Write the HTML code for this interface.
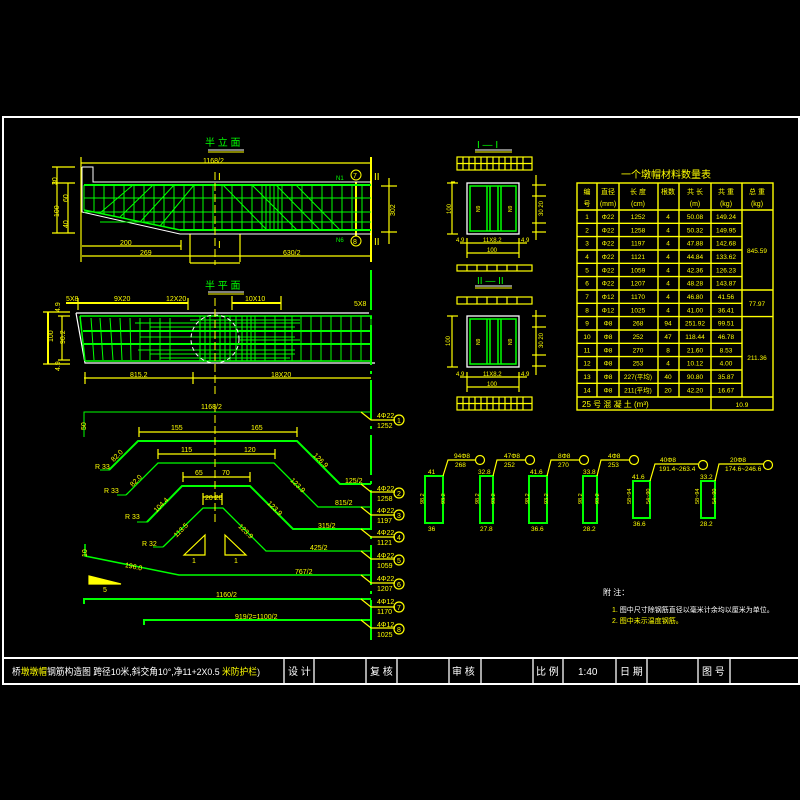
<!DOCTYPE html>
<html><head><meta charset="utf-8"><style>
html,body{margin:0;padding:0;background:#000;}
svg{display:block}
text{font-family:"Liberation Sans","Noto Sans CJK SC",sans-serif;}
</style></head><body>
<svg width="800" height="800" viewBox="0 0 800 800" xmlns="http://www.w3.org/2000/svg">
<rect width="800" height="800" fill="#000"/>
<!-- frame -->
<rect x="3" y="117" width="796" height="567" fill="none" stroke="#fff" stroke-width="2"/>
<line x1="3" y1="658" x2="799" y2="658" stroke="#fff" stroke-width="2"/>
<g stroke="#fff" stroke-width="1.3">
<line x1="284" y1="658" x2="284" y2="684"/><line x1="314" y1="658" x2="314" y2="684"/>
<line x1="366" y1="658" x2="366" y2="684"/><line x1="397" y1="658" x2="397" y2="684"/>
<line x1="449" y1="658" x2="449" y2="684"/><line x1="481" y1="658" x2="481" y2="684"/>
<line x1="533" y1="658" x2="533" y2="684"/><line x1="563" y1="658" x2="563" y2="684"/>
<line x1="616" y1="658" x2="616" y2="684"/><line x1="647" y1="658" x2="647" y2="684"/>
<line x1="698" y1="658" x2="698" y2="684"/><line x1="730" y1="658" x2="730" y2="684"/>
</g>
<g font-size="10" fill="#fff">
<text x="12" y="675" textLength="248" lengthAdjust="spacingAndGlyphs" font-size="9.5">桥<tspan fill="#ff0">墩墩帽</tspan>钢筋构造图 跨径10米,斜交角10°,净11+2X0.5 <tspan fill="#ff0">米防护栏</tspan>)</text>
<text x="288" y="675">设  计</text><text x="370" y="675">复  核</text><text x="452" y="675">审  核</text>
<text x="536" y="675">比  例</text><text x="578" y="675">1:40</text><text x="620" y="675">日  期</text><text x="702" y="675">图  号</text>
</g>

<!-- ============ ELEVATION ============ -->
<text x="205" y="146" font-size="10" fill="#0f0">半 立 面</text>
<line x1="208" y1="150" x2="244" y2="150" stroke="#fff"/><line x1="208" y1="152" x2="244" y2="152" stroke="#ff0"/>
<g stroke="#ff0" stroke-width="1.2" fill="none">
<line x1="81" y1="163" x2="371" y2="163"/><line x1="81" y1="157" x2="81" y2="262"/>
<line x1="371" y1="157" x2="371" y2="262" stroke-width="2"/>
<line x1="82" y1="246" x2="181" y2="246"/><line x1="181" y1="240" x2="181" y2="250"/>
<line x1="82" y1="256" x2="371" y2="256"/><line x1="240" y1="234" x2="240" y2="262"/>
<line x1="190" y1="234" x2="190" y2="263"/><line x1="190" y1="263" x2="240" y2="263"/>
<line x1="52" y1="167" x2="75" y2="167"/><line x1="52" y1="183" x2="75" y2="183"/><line x1="52" y1="233" x2="75" y2="233"/>
<line x1="57" y1="167" x2="57" y2="233"/><line x1="68" y1="183" x2="68" y2="233"/>
<line x1="389" y1="178" x2="389" y2="244"/><line x1="381" y1="186" x2="397" y2="186"/><line x1="381" y1="232" x2="397" y2="232"/>
<line x1="356" y1="182" x2="356" y2="236" stroke-width="2"/>
</g>
<g font-size="7" fill="#ff0">
<text x="203" y="163">1168/2</text><text x="120" y="245">200</text><text x="140" y="255">269</text><text x="283" y="255">630/2</text>
<text x="48" y="180" transform="rotate(-90 55 178)">30</text><text x="48" y="214" transform="rotate(-90 55 210)">100</text>
<text x="62" y="200" transform="rotate(-90 66 198)">60</text><text x="62" y="226" transform="rotate(-90 66 224)">40</text>
<text x="388" y="215" transform="rotate(-90 392 212)">302</text>
</g>
<g font-size="10" fill="#ff0"><text x="218" y="180">I</text><text x="218" y="248">I</text><text x="374" y="180">II</text><text x="374" y="245">II</text></g>
<circle cx="356" cy="175" r="5" fill="none" stroke="#ff0"/><text x="353" y="178" font-size="7" fill="#ff0">7</text>
<circle cx="356" cy="241" r="5" fill="none" stroke="#ff0"/><text x="353" y="244" font-size="7" fill="#ff0">8</text>
<text x="336" y="180" font-size="6" fill="#0f0">N1</text><text x="336" y="242" font-size="6" fill="#0f0">N6</text>
<polyline points="82,167 93,167 93,182 371,182" fill="none" stroke="#fff"/>
<polyline points="82,167 82,212 180,234 371,234" fill="none" stroke="#fff"/>
<g stroke="#0f0" fill="none">
<line x1="84" y1="185" x2="371" y2="185" stroke-width="2"/>
<line x1="180" y1="230" x2="371" y2="230" stroke-width="2"/>
<line x1="84" y1="210" x2="180" y2="230" stroke-width="1.5"/>
<line x1="84" y1="185" x2="84" y2="210"/>
<line x1="84" y1="198" x2="371" y2="198"/><line x1="84" y1="212" x2="371" y2="212"/><line x1="100" y1="222" x2="371" y2="222"/>
<path d="M94 185V212M104 185V214M114 185V216M124 185V218M134 185V220M144 185V222M154 185V224M164 185V226M174 185V228M184 185V230M194 185V230M203 185V230M213 185V230M222 185V230M232 185V230M242 185V230M252 185V230M262 185V230M266 185V230M270 185V230M274 185V230M278 185V230M282 185V230M292 185V230M302 185V230M312 185V230M322 185V230M332 185V230M342 185V230M352 185V230M362 185V230"/>
<path d="M100 213L133 185M120 217L153 185M140 222L174 185M160 226L194 185M223 185L267 230M252 185L297 230M276 185L320 230M296 185L340 230"/>
</g>
<line x1="215" y1="172" x2="215" y2="265" stroke="#ff0" stroke-dasharray="8,3"/>

<!-- ============ PLAN ============ -->
<text x="205" y="289" font-size="10" fill="#0f0">半 平 面</text>
<line x1="208" y1="292" x2="244" y2="292" stroke="#fff"/><line x1="208" y1="294" x2="244" y2="294" stroke="#ff0"/>
<g stroke="#ff0" stroke-width="1.2" fill="none">
<line x1="66" y1="303" x2="188" y2="303" stroke-width="2"/><line x1="232" y1="303" x2="281" y2="303" stroke-width="2"/>
<line x1="78" y1="298" x2="78" y2="310"/><line x1="188" y1="298" x2="188" y2="310"/><line x1="232" y1="296" x2="232" y2="310"/><line x1="281" y1="296" x2="281" y2="310"/>
<line x1="84" y1="378" x2="371" y2="378"/><line x1="85" y1="372" x2="85" y2="384"/><line x1="193" y1="372" x2="193" y2="384"/>
<line x1="43" y1="312" x2="70" y2="312"/><line x1="43" y1="364" x2="70" y2="364"/><line x1="48" y1="312" x2="48" y2="364" stroke-width="2"/>
<line x1="62" y1="316" x2="62" y2="360"/><line x1="58" y1="316" x2="70" y2="316"/><line x1="58" y1="360" x2="70" y2="360"/>
</g>
<g font-size="7" fill="#ff0">
<text x="66" y="301">5X8</text><text x="114" y="301">9X20</text><text x="166" y="301">12X20</text><text x="245" y="301">10X10</text>
<text x="130" y="377">815.2</text><text x="271" y="377">18X20</text><text x="354" y="306">5X8</text>
<text x="48" y="343" transform="rotate(-90 50 340)">100</text><text x="57" y="344" transform="rotate(-90 61 340)">90.2</text>
<text x="53" y="313" transform="rotate(-90 56 309)">4.9</text><text x="53" y="372" transform="rotate(-90 56 368)">4.9</text>
</g>
<polyline points="76,313 369,313" fill="none" stroke="#fff" stroke-width="1.2"/>
<polyline points="76,313 85,363 375,363" fill="none" stroke="#fff" stroke-width="1.2"/>
<g stroke="#0f0" fill="none" stroke-width="1.5">
<polyline points="80,316 372,316"/><polyline points="85,361 372,361"/><line x1="80" y1="316" x2="85" y2="361"/>
<line x1="83" y1="331" x2="372" y2="331" stroke-width="2"/><line x1="84" y1="344" x2="372" y2="344" stroke-width="2"/>
</g>
<g stroke="#0f0" fill="none">
<path d="M91 318L94 360M100 318L103 360M110 318L113 360M120 318L122 360M130 318L131 360M140 318L140 360M150 318L150 360M160 318L160 360M170 318L170 360"/>
<path d="M135 323H300M150 327H295M140 337H295M138 350H295M150 354H295M160 358H290M190 320H300M240 340H300"/>
<path d="M200 316V361M205 316V361M210 316V361M220 316V361M225 316V361M230 316V361M236 316V361M242 316V361M247 316V361M251 316V361M255 316V361M265 316V361M275 316V361M285 316V361M292 316V361M301 316V361M311 316V361M321 316V361M331 316V361M341 316V361M351 316V361M361 316V361M371 316V361"/>
</g>
<circle cx="215" cy="339" r="24" fill="none" stroke="#fff" stroke-dasharray="4,3"/>
<line x1="215" y1="298" x2="215" y2="395" stroke="#ff0" stroke-dasharray="8,3"/>
<line x1="371" y1="270" x2="371" y2="640" stroke="#0f0" stroke-width="2" stroke-dasharray="40,6,3,6"/>

<!-- ============ BAR SHAPES ============ -->
<g stroke="#0f0" fill="none">
<polyline points="84,437 84,412 371,412"/>
<polyline points="109,470 138,441 297,441 340,484 371,484" stroke-width="2"/>
<polyline points="126,495 158,463 274,463 318,507 371,507" stroke-width="1.3"/>
<polyline points="147,522 182,486 250,486 293,529 371,529" stroke-width="2"/>
<polyline points="163,547 203,508 223,508 266,551 371,551" stroke-width="1.3"/>
<polyline points="85,544 85,556 179,575 371,575" stroke-width="1.5"/>
<polyline points="84,604 84,599 371,599" stroke-width="2"/>
<polyline points="144,625 144,620 371,620" stroke-width="2"/>
<line x1="100" y1="470" x2="109" y2="470"/><line x1="117" y1="495" x2="126" y2="495"/><line x1="137" y1="522" x2="147" y2="522"/><line x1="153" y1="547" x2="163" y2="547"/>
</g>
<g stroke="#ff0" fill="none" stroke-width="1.2">
<line x1="139" y1="432" x2="297" y2="432"/><line x1="139" y1="427" x2="139" y2="437"/><line x1="297" y1="427" x2="297" y2="437"/>
<line x1="158" y1="454" x2="275" y2="454"/><line x1="158" y1="449" x2="158" y2="459"/><line x1="275" y1="449" x2="275" y2="459"/>
<line x1="183" y1="477" x2="250" y2="477"/><line x1="183" y1="472" x2="183" y2="482"/><line x1="250" y1="472" x2="250" y2="482"/>
<line x1="203" y1="497" x2="222" y2="497"/><line x1="203" y1="493" x2="203" y2="505"/><line x1="222" y1="493" x2="222" y2="505"/>
<line x1="215" y1="404" x2="215" y2="525" stroke-dasharray="8,3" stroke-width="1"/>
<polygon points="184,555 205,535 205,555"/><polygon points="225,535 246,555 225,555"/>
<polygon points="89,576 121,584 89,584" fill="#ff0"/>
<path d="M361 412L371 420H395M361 484L371 492H395M361 507L371 515H395M361 529L371 537H395M361 551L371 559H395M361 575L371 583H395M361 599L371 607H395M361 620L371 628H395"/>
</g>
<g font-size="7" fill="#ff0">
<text x="201" y="409">1168/2</text><text x="80" y="430" transform="rotate(-90 83 427)">50</text>
<text x="171" y="430">155</text><text x="251" y="430">165</text>
<text x="181" y="452">115</text><text x="244" y="452">120</text>
<text x="195" y="475">65</text><text x="222" y="475">70</text><text x="205" y="500">20 20</text>
<text x="110" y="457" transform="rotate(-45 118 455)">82.0</text><text x="129" y="482" transform="rotate(-45 137 480)">82.0</text>
<text x="152" y="508" transform="rotate(-45 160 505)">104.4</text><text x="172" y="533" transform="rotate(-45 180 530)">113.5</text>
<text x="312" y="462" transform="rotate(45 320 460)">126.9</text><text x="289" y="487" transform="rotate(45 297 485)">123.9</text>
<text x="266" y="510" transform="rotate(45 274 508)">123.9</text><text x="237" y="533" transform="rotate(45 245 531)">123.9</text>
<text x="95" y="469">R 33</text><text x="104" y="493">R 33</text><text x="125" y="519">R 33</text><text x="142" y="546">R 32</text>
<text x="345" y="483">125/2</text><text x="335" y="505">815/2</text><text x="318" y="528">315/2</text><text x="310" y="550">425/2</text>
<text x="295" y="574">767/2</text><text x="216" y="597">1160/2</text><text x="235" y="619">919/2=1100/2</text>
<text x="125" y="567" transform="rotate(12 125 565)">196.0</text>
<text x="80" y="556" transform="rotate(-90 84 553)">10</text>
<text x="192" y="563">1</text><text x="234" y="563">1</text><text x="103" y="592">5</text>
<text x="377" y="418">4Φ22</text><text x="377" y="428">1252</text>
<text x="377" y="491">4Φ22</text><text x="377" y="501">1258</text>
<text x="377" y="513">4Φ22</text><text x="377" y="523">1197</text>
<text x="377" y="535">4Φ22</text><text x="377" y="545">1121</text>
<text x="377" y="558">4Φ22</text><text x="377" y="568">1059</text>
<text x="377" y="581">4Φ22</text><text x="377" y="591">1207</text>
<text x="377" y="604">4Φ12</text><text x="377" y="614">1170</text>
<text x="377" y="627">4Φ12</text><text x="377" y="637">1025</text>
</g>
<g fill="none" stroke="#ff0" stroke-width="1.2">
<circle cx="399" cy="420" r="5"/><circle cx="399" cy="493" r="5"/><circle cx="399" cy="515" r="5"/><circle cx="399" cy="537" r="5"/>
<circle cx="399" cy="560" r="5"/><circle cx="399" cy="584" r="5"/><circle cx="399" cy="607" r="5"/><circle cx="399" cy="629" r="5"/>
</g>
<g font-size="7" fill="#ff0">
<text x="397" y="423">1</text><text x="397" y="496">2</text><text x="397" y="518">3</text><text x="397" y="540">4</text>
<text x="397" y="563">5</text><text x="397" y="587">6</text><text x="397" y="610">7</text><text x="397" y="632">8</text>
</g>

<!-- ============ CROSS SECTIONS ============ -->
<g font-size="10" fill="#0f0"><text x="477" y="148">I — I</text><text x="477" y="284">II — II</text></g>
<g stroke="#fff"><line x1="475" y1="150" x2="512" y2="150"/><line x1="475" y1="286" x2="512" y2="286"/></g>
<g stroke="#ff0"><line x1="475" y1="152" x2="512" y2="152"/><line x1="475" y1="288" x2="512" y2="288"/></g>
<g stroke="#ff0" fill="none" stroke-width="1.2">
<rect x="457" y="157" width="75" height="13"/><line x1="457" y1="163.5" x2="532" y2="163.5"/>
<rect x="457" y="265" width="75" height="6"/>
<rect x="457" y="297" width="75" height="7"/>
<rect x="457" y="397" width="75" height="13"/><line x1="457" y1="403.5" x2="532" y2="403.5"/>
<path d="M463 157V170M469 157V170M475 157V170M481 157V170M487 157V170M493 157V170M499 157V170M505 157V170M511 157V170M517 157V170M523 157V170"/>
<path d="M463 397V410M469 397V410M475 397V410M481 397V410M487 397V410M493 397V410M499 397V410M505 397V410M511 397V410M517 397V410M523 397V410"/>
<path d="M467 265V271M477 265V271M487 265V271M497 265V271M507 265V271M517 265V271M467 297V304M477 297V304M487 297V304M497 297V304M507 297V304M517 297V304"/>
<line x1="451" y1="182" x2="455" y2="182"/><line x1="447" y1="183" x2="458" y2="183"/><line x1="447" y1="234" x2="458" y2="234"/><line x1="452" y1="183" x2="452" y2="234"/>
<line x1="447" y1="316" x2="458" y2="316"/><line x1="447" y1="367" x2="458" y2="367"/><line x1="452" y1="316" x2="452" y2="367"/>
<line x1="460" y1="243" x2="527" y2="243"/><line x1="467" y1="253" x2="519" y2="253"/><line x1="467" y1="238" x2="467" y2="258"/><line x1="519" y1="238" x2="519" y2="258"/>
<line x1="460" y1="377" x2="527" y2="377"/><line x1="467" y1="387" x2="519" y2="387"/><line x1="467" y1="372" x2="467" y2="392"/><line x1="519" y1="372" x2="519" y2="392"/>
<line x1="536" y1="175" x2="536" y2="240"/><line x1="532" y1="185" x2="546" y2="185"/><line x1="532" y1="196" x2="546" y2="196"/><line x1="532" y1="223" x2="546" y2="223"/><line x1="532" y1="232" x2="546" y2="232"/>
<line x1="536" y1="310" x2="536" y2="375"/><line x1="532" y1="316" x2="546" y2="316"/><line x1="532" y1="327" x2="546" y2="327"/><line x1="532" y1="355" x2="546" y2="355"/><line x1="532" y1="366" x2="546" y2="366"/>
</g>
<g font-size="6" fill="#ff0">
<text x="442" y="215" transform="rotate(-90 446 210)">100</text><text x="442" y="346" transform="rotate(-90 446 342)">100</text>
<text x="532" y="215" transform="rotate(-90 538 210)">30 20</text><text x="532" y="347" transform="rotate(-90 538 342)">30 20</text>
<text x="483" y="242">11X8.2</text><text x="487" y="252">100</text><text x="456" y="242">4.9</text><text x="521" y="242">4.9</text>
<text x="483" y="376">11X8.2</text><text x="487" y="386">100</text><text x="456" y="376">4.9</text><text x="521" y="376">4.9</text>
</g>
<rect x="467" y="183" width="52" height="51" fill="none" stroke="#fff" stroke-width="1.3"/>
<rect x="467" y="316" width="52" height="51" fill="none" stroke="#fff" stroke-width="1.3"/>
<g stroke="#0f0" fill="none" stroke-width="1.5">
<rect x="470" y="186" width="46" height="45"/><rect x="470" y="319" width="46" height="45"/>
<path d="M487 186V231M490 186V231M498 186V231M501 186V231M487 319V364M490 319V364M498 319V364M501 319V364"/>
</g>
<g font-size="5" fill="#ff0"><text x="476" y="212" transform="rotate(-90 478 210)">N9</text><text x="508" y="212" transform="rotate(-90 510 210)">N9</text>
<text x="476" y="345" transform="rotate(-90 478 343)">N9</text><text x="508" y="345" transform="rotate(-90 510 343)">N9</text></g>

<!-- ============ TABLE ============ -->
<text x="621" y="178" font-size="10" fill="#ff0">一个墩帽材料数量表</text>
<g stroke="#ff0" fill="none" stroke-width="1.4">
<rect x="577" y="183" width="196" height="227"/>
<path d="M597 183V397M619 183V397M658 183V397M679 183V397M711 183V410M742 183V397"/>
<line x1="577" y1="210" x2="773" y2="210"/>
<path d="M577 223.3H742M577 236.6H742M577 250H742M577 263.3H742M577 276.6H742M577 290H773M577 303.3H742M577 316.6H773M577 330H742M577 343.3H742M577 356.6H742M577 370H742M577 383.3H742M577 397H773"/>
</g>
<g font-size="7" fill="#ff0" text-anchor="middle">
<text x="587" y="194">编</text><text x="587" y="206">号</text><text x="608" y="194">直径</text><text x="608" y="206">(mm)</text>
<text x="638" y="194">长  度</text><text x="638" y="206">(cm)</text><text x="668" y="194">根数</text>
<text x="695" y="194">共 长</text><text x="695" y="206">(m)</text><text x="726" y="194">共 重</text><text x="726" y="206">(kg)</text>
<text x="757" y="194">总  重</text><text x="757" y="206">(kg)</text>
</g>
<g font-size="6.5" fill="#ff0" text-anchor="middle">
<g transform="translate(0,219)"><text x="587">1</text><text x="608">Φ22</text><text x="638">1252</text><text x="668">4</text><text x="695">50.08</text><text x="726">149.24</text></g>
<g transform="translate(0,232.3)"><text x="587">2</text><text x="608">Φ22</text><text x="638">1258</text><text x="668">4</text><text x="695">50.32</text><text x="726">149.95</text></g>
<g transform="translate(0,245.6)"><text x="587">3</text><text x="608">Φ22</text><text x="638">1197</text><text x="668">4</text><text x="695">47.88</text><text x="726">142.68</text></g>
<g transform="translate(0,259)"><text x="587">4</text><text x="608">Φ22</text><text x="638">1121</text><text x="668">4</text><text x="695">44.84</text><text x="726">133.62</text></g>
<g transform="translate(0,272.3)"><text x="587">5</text><text x="608">Φ22</text><text x="638">1059</text><text x="668">4</text><text x="695">42.36</text><text x="726">126.23</text></g>
<g transform="translate(0,285.6)"><text x="587">6</text><text x="608">Φ22</text><text x="638">1207</text><text x="668">4</text><text x="695">48.28</text><text x="726">143.87</text></g>
<g transform="translate(0,299)"><text x="587">7</text><text x="608">Φ12</text><text x="638">1170</text><text x="668">4</text><text x="695">46.80</text><text x="726">41.56</text></g>
<g transform="translate(0,312.3)"><text x="587">8</text><text x="608">Φ12</text><text x="638">1025</text><text x="668">4</text><text x="695">41.00</text><text x="726">36.41</text></g>
<g transform="translate(0,325.6)"><text x="587">9</text><text x="608">Φ8</text><text x="638">268</text><text x="668">94</text><text x="695">251.92</text><text x="726">99.51</text></g>
<g transform="translate(0,339)"><text x="587">10</text><text x="608">Φ8</text><text x="638">252</text><text x="668">47</text><text x="695">118.44</text><text x="726">46.78</text></g>
<g transform="translate(0,352.3)"><text x="587">11</text><text x="608">Φ8</text><text x="638">270</text><text x="668">8</text><text x="695">21.60</text><text x="726">8.53</text></g>
<g transform="translate(0,365.6)"><text x="587">12</text><text x="608">Φ8</text><text x="638">253</text><text x="668">4</text><text x="695">10.12</text><text x="726">4.00</text></g>
<g transform="translate(0,379)"><text x="587">13</text><text x="608">Φ8</text><text x="638">227(平均)</text><text x="668">40</text><text x="695">90.80</text><text x="726">35.87</text></g>
<g transform="translate(0,392.3)"><text x="587">14</text><text x="608">Φ8</text><text x="638">211(平均)</text><text x="668">20</text><text x="695">42.20</text><text x="726">16.67</text></g>
<text x="757" y="253">845.59</text><text x="757" y="306">77.97</text><text x="757" y="360">211.36</text>
<text x="742" y="407">10.9</text>
</g>
<text x="582" y="407" font-size="8" fill="#ff0">25  号  混  凝  土  (m³)</text>

<!-- ============ STIRRUPS ============ -->
<g stroke="#0f0" fill="none" stroke-width="2">
<rect x="425" y="476" width="18" height="47"/><rect x="480" y="476" width="13" height="47"/>
<rect x="529" y="476" width="18" height="47"/><rect x="583" y="476" width="14" height="47"/>
<rect x="633" y="481" width="17" height="37"/><rect x="701" y="481" width="14" height="37"/>
</g>
<g stroke="#ff0" fill="none" stroke-width="1.2">
<polyline points="443,476 448,460 476,460"/><polyline points="493,476 497,460 526,460"/>
<polyline points="547,476 551,460 580,460"/><polyline points="597,476 601,460 630,460"/>
<polyline points="650,481 655,464 698,464"/><polyline points="715,481 719,464 764,464"/>
<circle cx="480" cy="460" r="4.5"/><circle cx="530" cy="460" r="4.5"/><circle cx="584" cy="460" r="4.5"/>
<circle cx="634" cy="460" r="4.5"/><circle cx="703" cy="465" r="4.5"/><circle cx="768" cy="465" r="4.5"/>
</g>
<g font-size="6.5" fill="#ff0">
<text x="454" y="458">94Φ8</text><text x="455" y="467">268</text><text x="504" y="458">47Φ8</text><text x="504" y="467">252</text>
<text x="558" y="458">8Φ8</text><text x="558" y="467">270</text><text x="608" y="458">4Φ8</text><text x="608" y="467">253</text>
<text x="660" y="462">40Φ8</text><text x="659" y="471">191.4~263.4</text><text x="730" y="462">20Φ8</text><text x="725" y="471">174.6~246.6</text>
<text x="428" y="474">41</text><text x="478" y="474">32.8</text><text x="530" y="474">41.6</text><text x="583" y="474">33.8</text>
<text x="632" y="479">41.6</text><text x="700" y="479">33.2</text>
<text x="428" y="531">36</text><text x="480" y="531">27.8</text><text x="531" y="531">36.6</text><text x="583" y="531">28.2</text>
<text x="633" y="526">36.6</text><text x="700" y="526">28.2</text>
</g>
<g font-size="5.5" fill="#ff0">
<text x="415" y="505" transform="rotate(-90 419 500)">98.2</text><text x="436" y="505" transform="rotate(-90 440 500)">93.2</text>
<text x="470" y="505" transform="rotate(-90 474 500)">98.2</text><text x="486" y="505" transform="rotate(-90 490 500)">93.2</text>
<text x="520" y="505" transform="rotate(-90 524 500)">98.2</text><text x="539" y="505" transform="rotate(-90 543 500)">93.2</text>
<text x="573" y="505" transform="rotate(-90 577 500)">98.2</text><text x="590" y="505" transform="rotate(-90 594 500)">93.2</text>
<text x="622" y="505" transform="rotate(-90 626 500)">58~94</text><text x="641" y="505" transform="rotate(-90 645 500)">54~90</text>
<text x="690" y="505" transform="rotate(-90 694 500)">58~94</text><text x="707" y="505" transform="rotate(-90 711 500)">54~90</text>
</g>

<!-- notes -->
<text x="603" y="595" font-size="8" fill="#fff">附  注：</text>
<text x="612" y="612" font-size="7" fill="#ff0">1.  <tspan fill="#fff">图中尺寸除钢筋直径以毫米计余均以厘米为单位。</tspan></text>
<text x="612" y="623" font-size="7" fill="#ff0">2. 图中未示温度钢筋。</text>
</svg>
</body></html>
